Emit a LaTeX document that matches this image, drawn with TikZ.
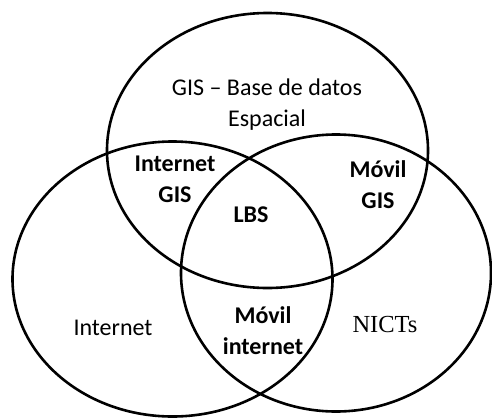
\documentclass[tikz,border=0pt]{standalone}
\usepackage{fontspec}
\setmainfont{Carlito}
\newfontfamily\serifnict{Liberation Serif}
\begin{document}
\begin{tikzpicture}[x=1pt,y=-1pt,
  venn/.style={draw=black,line width=2.6pt},
  lbl/.style={font=\fontsize{24}{31}\selectfont,align=center,inner sep=0pt},
  blbl/.style={lbl,font=\fontsize{24}{31}\selectfont\bfseries}]
\useasboundingbox (0,0) rectangle (492,418);
\begin{scope}
\clip (0,0) rectangle (492,418);
\draw[venn] (267.5,150.5) ellipse [x radius=160.5, y radius=137.5];
\draw[venn] (172.5,279) ellipse [x radius=160, y radius=137.5];
\draw[venn] (336,273) ellipse [x radius=155, y radius=138.5];
\end{scope}
\node[lbl]  (gis)  at (267,104.5) {GIS – Base de datos\\Espacial};
\node[blbl] (igis) at (175,179.5) {Internet\\GIS};
\node[blbl] (lbs)  at (251,215) {LBS};
\node[blbl] (mgis) at (378,185) {Móvil\\GIS};
\node[lbl]  (inet) at (113,328) {Internet};
\node[blbl] (minet) at (263,330.5) {Móvil\\internet};
\node[lbl,font=\fontsize{24.5}{28}\selectfont\serifnict] (nicts) at (385,325) {NICTs};
\end{tikzpicture}
\end{document}
